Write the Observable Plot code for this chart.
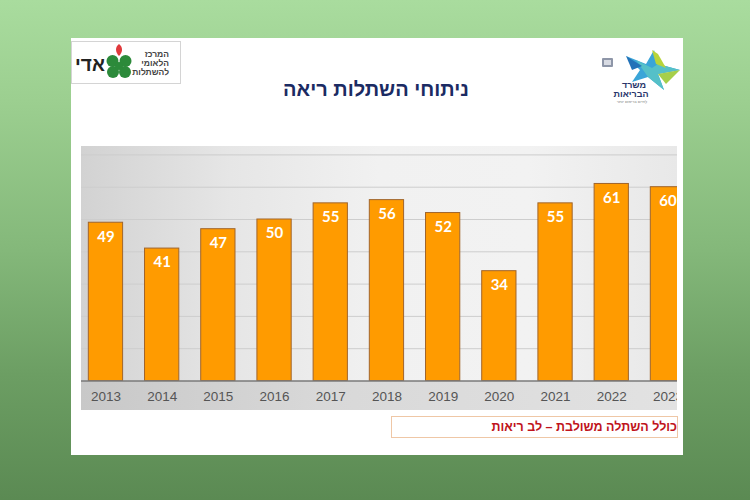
<!DOCTYPE html>
<html>
<head>
<meta charset="utf-8">
<script src="https://cdn.jsdelivr.net/npm/d3@7"></script>
<script src="https://cdn.jsdelivr.net/npm/@observablehq/plot@0.6"></script>
<style>
  html, body { margin: 0; padding: 0; }
  body {
    width: 750px; height: 500px; position: relative; overflow: hidden;
    background: linear-gradient(to bottom, #a9dc9e 0%, #9ccf90 20%, #84b87a 50%, #6c9e63 75%, #5b8a53 100%);
    font-family: "Liberation Sans", Arial, sans-serif;
  }
  #slide { position: absolute; left: 71px; top: 38px; width: 612px; height: 417px; background: #fff; }
  #title {
    position: absolute; left: 71px; top: 78px; width: 610px; text-align: center;
    font: bold 20px "Liberation Sans", Arial, sans-serif; color: #1b2b63; direction: rtl;
  }
  #chartbox { position: absolute; left: 81px; top: 146px; width: 596px; height: 264px; overflow: hidden; }
  #plotbg { position: absolute; left: 0; top: 0; width: 596px; height: 235px;
    background: linear-gradient(to right, #d2d2d2 0%, #e6e6e6 25%, #f1f1f1 50%, #f2f2f2 75%, #e8e8e8 100%); }
  #axisbg { position: absolute; left: 0; top: 235px; width: 596px; height: 29px;
    background: linear-gradient(to right, #c8c8c8 0%, #d8d8d8 40%, #e2e2e2 100%); }
  #plot { position: absolute; left: 0; top: 0; width: 596px; height: 264px; }
  #plot svg { max-width: none !important; }
  #caption {
    position: absolute; left: 391px; top: 416px; width: 287px; height: 22px; box-sizing: border-box;
    border: 1px solid #efc7a6; background: #fff; direction: rtl; text-align: right;
    font: bold 12.5px "Liberation Sans", Arial, sans-serif; color: #c0141c; line-height: 21px; padding-right: 0px;
  }
  svg.logo { position: absolute; }
</style>
</head>
<body>
<div id="slide"></div>

<svg class="logo" style="left:71px;top:41px" width="112" height="44" viewBox="0 0 112 44">
  <rect x="0.5" y="0.5" width="109" height="42" fill="#fff" stroke="#d4d4d4"/>
  <text x="19" y="30" text-anchor="middle" font-family="Liberation Sans, Arial" font-weight="bold" font-size="19" fill="#222">אדי</text>
  <path d="M48 15 C44 11 44 6 48 3 C52 6 52 11 48 15 Z" fill="#e0393c"/>
  <circle cx="41.5" cy="20" r="6" fill="#2c8a3a"/>
  <circle cx="54.5" cy="20" r="6" fill="#2c8a3a"/>
  <circle cx="42" cy="31" r="6" fill="#2c8a3a"/>
  <circle cx="54" cy="31" r="6" fill="#2c8a3a"/>
  <circle cx="48" cy="25" r="4" fill="#2c8a3a"/>
  <g font-family="Liberation Sans, Arial" font-weight="bold" font-size="8.5" fill="#444" text-anchor="end">
    <text x="98" y="16">המרכז</text>
    <text x="98" y="25">הלאומי</text>
    <text x="98" y="34">להשתלות</text>
  </g>
</svg>

<svg class="logo" style="left:596px;top:44px" width="86" height="62" viewBox="0 0 86 62">
  <rect x="6" y="14" width="11" height="9" fill="#8e96a8" rx="1"/>
  <rect x="8" y="16" width="7" height="5" fill="#d8dbe3"/>
  <polygon points="30,12 50,20 58,6 62,20 84,26 62,30 68,46 52,33 36,38 44,26" fill="#3aa5d8"/>
  <polygon points="40,16 56,24 62,20 84,26 62,30 68,46 52,33" fill="#55c0c8"/>
  <polygon points="56,6 60,20 70,24 62,10" fill="#b8d43a"/>
  <polygon points="62,30 84,26 70,40" fill="#a6cf4a"/>
  <polygon points="30,12 46,22 36,26" fill="#2272b8"/>
  <g font-family="Liberation Sans, Arial" font-weight="bold" fill="#27356b" text-anchor="middle">
    <text x="38" y="44" font-size="9">משרד</text>
    <text x="35" y="53" font-size="9">הבריאות</text>
    <text x="36" y="59" font-size="4" font-weight="normal" fill="#777">לחיים בריאים יותר</text>
  </g>
</svg>

<div id="title">ניתוחי השתלות ריאה</div>

<div id="chartbox">
  <div id="plotbg"></div>
  <div id="axisbg"></div>
  <div id="plot"></div>
</div>

<div id="caption">כולל השתלה משולבת – לב ריאות</div>

<script>
const years = ["2013","2014","2015","2016","2017","2018","2019","2020","2021","2022","2023"];
const values = [49, 41, 47, 50, 55, 56, 52, 34, 55, 61, 60];
const gridTicks = [10, 20, 30, 40, 50, 60, 70];

const data = years.map((year, i) => ({year, value: values[i]}));

const chart = Plot.plot({
  width: 596,
  height: 264,
  marginLeft: 0,
  marginRight: 0,
  marginTop: 0,
  marginBottom: 29.5,
  style: {background: "transparent", overflow: "visible", maxWidth: "none"},
  x: {type: "band", domain: years, range: [-14.6, 625.5], padding: 0.39, round: false, axis: null},
  y: {domain: [0, 72.6], axis: null},
  marks: [
    Plot.ruleY(gridTicks, {stroke: "#cdcdcd", strokeWidth: 1}),
    Plot.barY(data, {x: "year", y: "value", fill: "#ff9b00", stroke: "#a0652c", strokeWidth: 1}),
    Plot.ruleY([0], {stroke: "#7a7a7a", strokeWidth: 1.5}),
    Plot.text(data, {x: "year", y: "value", text: d => String(d.value), dy: 14,
      fill: "#ffffff", fontWeight: "bold", fontSize: 15, fontFamily: "Lato, 'Open Sans', sans-serif"}),
    Plot.axisX({tickSize: 0, tickPadding: 10, fontSize: 13.5, fill: "#555555",
      fontFamily: "'Liberation Sans', Arial, sans-serif", label: null})
  ]
});
document.getElementById("plot").appendChild(chart);
</script>
</body>
</html>
